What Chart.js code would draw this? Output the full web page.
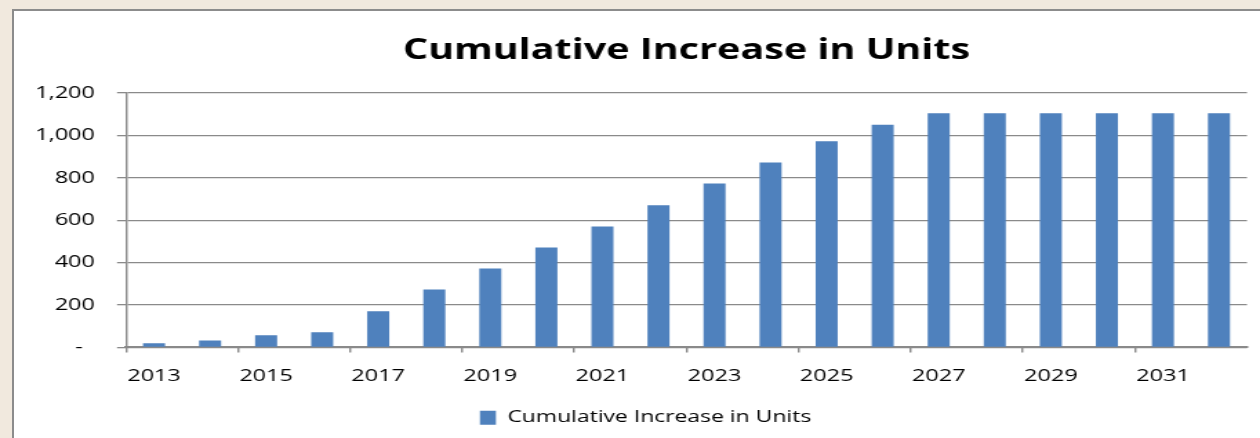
<!DOCTYPE html>
<html>
<head>
<meta charset="utf-8">
<script src="https://cdn.jsdelivr.net/npm/chart.js@4/dist/chart.umd.min.js"></script>
<style>
  html, body { margin: 0; padding: 0; }
  body { width: 1260px; height: 438px; background: #f1e9de; position: relative; overflow: hidden; }
  #frame { position: absolute; left: 12px; top: 9px; right: 0; bottom: 0; background: #fff;
           border-left: 2px solid #8c8c8c; border-top: 2px solid #8c8c8c; }
  /* chart is laid out narrow and widened, giving the broad lettering */
  #wrap { position: absolute; left: 0; top: 0; width: 913px; height: 438px;
          transform: scaleX(1.38007); transform-origin: 0 0; }
</style>
</head>
<body>
<div id="frame"></div>
<div id="wrap"><canvas id="unitsChart"></canvas></div>
<script>
var YEARS = ["2013","2014","2015","2016","2017","2018","2019","2020","2021","2022",
             "2023","2024","2025","2026","2027","2028","2029","2030","2031","2032"];
var CUMULATIVE_UNITS = [20, 33, 57, 71, 170, 273, 372, 471, 570, 670,
                        773, 872, 972, 1050, 1105, 1105, 1105, 1105, 1105, 1105];
var Y_TICKS = [0, 200, 400, 600, 800, 1000, 1200];

var SX = 1.38007;
var GRID = "#8a8a8a";
var FONT = "'Open Sans', sans-serif";

function yLabel(v) {
  if (v === 0) return "-  ";
  return v.toLocaleString("en-US");
}

// nudge the legend a little right, toward the middle of the plot
var legendShift = {
  id: "legendShift",
  afterLayout: function(c) {
    c.legend.left += 16;
    c.legend.right += 16;
  }
};

var chart = new Chart(document.getElementById("unitsChart"), {
  type: "bar",
  data: {
    labels: YEARS,
    datasets: [{
      label: "Cumulative Increase in Units",
      data: CUMULATIVE_UNITS,
      backgroundColor: "#4f81bd",
      borderWidth: 0,
      barPercentage: 0.393,
      categoryPercentage: 1
    }]
  },
  options: {
    responsive: true,
    maintainAspectRatio: false,
    animation: false,
    layout: { padding: { left: 0, right: 913 - 1247 / SX, top: 0, bottom: 2 } },
    scales: {
      x: {
        offset: true,
        grid: {
          offset: true,
          drawOnChartArea: false,
          tickLength: 5,
          lineWidth: 2 / SX,
          color: function(c) { return c.index % 2 === 0 ? GRID : "transparent"; }
        },
        border: { color: GRID, width: 2 },
        ticks: {
          autoSkip: false,
          maxRotation: 0,
          padding: 14,
          color: "#000",
          font: { family: FONT, size: 17 },
          callback: function(v, i) { return i % 2 === 0 ? YEARS[i] : ""; }
        },
        afterFit: function(scale) { scale.height = 52; }
      },
      y: {
        min: 0,
        max: 1200,
        afterBuildTicks: function(scale) {
          scale.ticks = Y_TICKS.map(function(v) { return { value: v }; });
        },
        grid: { color: GRID, lineWidth: 1.3, tickLength: 6.5 },
        border: { color: GRID, width: 2 / SX },
        ticks: {
          padding: 16,
          color: "#000",
          font: { family: FONT, size: 17 },
          callback: yLabel
        },
        afterFit: function(scale) { scale.width = 126 / SX; }
      }
    },
    plugins: {
      title: {
        display: true,
        text: "Cumulative Increase in Units",
        fullSize: false,
        color: "#000",
        font: { family: FONT, size: 28.6, weight: "bold", lineHeight: 1.2 },
        padding: { top: 34, bottom: 24.7 }
      },
      legend: {
        position: "bottom",
        labels: {
          boxWidth: 16 / SX,
          boxHeight: 14,
          padding: 10,
          color: "#000",
          font: { family: FONT, size: 16.6 }
        }
      },
      tooltip: { enabled: false }
    }
  },
  plugins: [legendShift]
});
</script>
</body>
</html>
